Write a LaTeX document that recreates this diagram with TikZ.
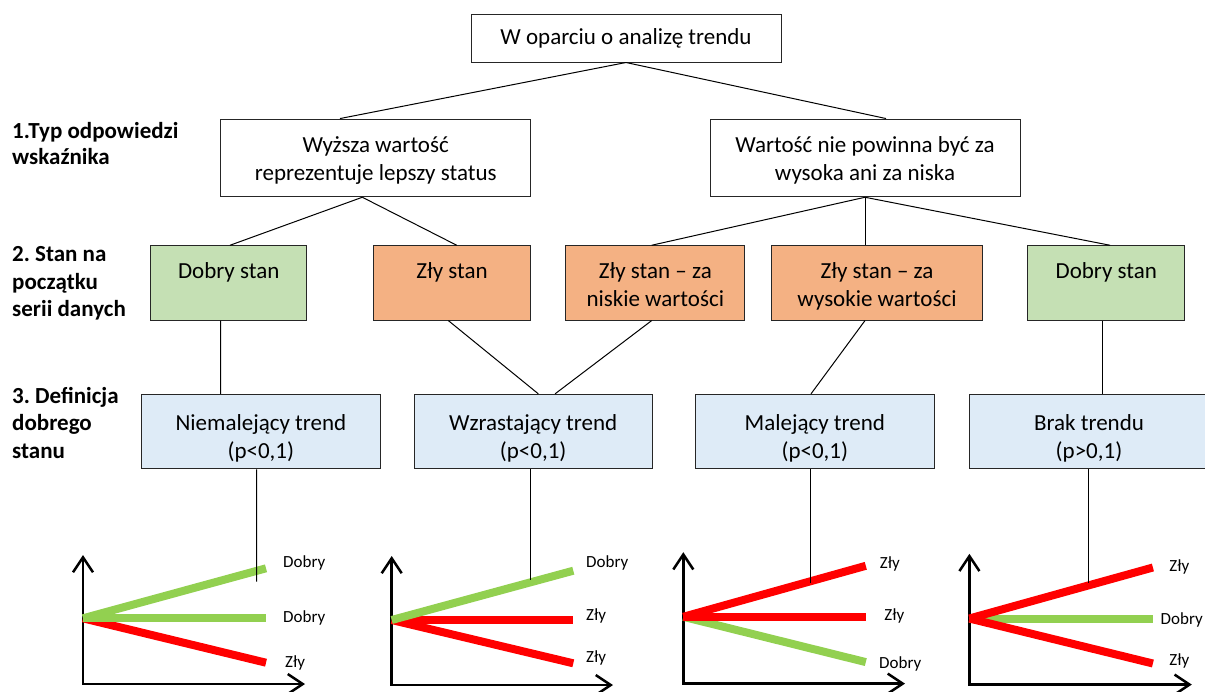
\documentclass[tikz,border=0pt]{standalone}
\usepackage{fontspec}
\setmainfont{Carlito}
\usetikzlibrary{arrows.meta}
\definecolor{gfill}{HTML}{C5E0B4}
\definecolor{ofill}{HTML}{F4B183}
\definecolor{bfill}{HTML}{DEEBF7}
\definecolor{lgreen}{HTML}{92D050}
\definecolor{lred}{HTML}{FF0000}
\newcommand{\tpad}[1]{\rule{0pt}{#1}}
\frenchspacing
\begin{document}
\begin{tikzpicture}[x=1pt,y=-1pt,
  box/.style={draw=black!85, line width=1pt, align=center, inner sep=0pt,
    font=\fontsize{23}{28}\selectfont},
  wbox/.style={box, fill=white},
  gbox/.style={box, fill=gfill, minimum height=74.3pt},
  obox/.style={box, fill=ofill, minimum height=74.3pt},
  bbox/.style={box, fill=bfill, minimum width=238.3pt, minimum height=74.5pt},
  conn/.style={draw=black, line width=1pt},
  lab/.style={anchor=base west, align=left, inner sep=0pt,
    font=\fontsize{23}{27.5}\selectfont\bfseries},
  axisline/.style={line width=2.5pt, line join=miter,
    {Straight Barb[length=15pt,width=20pt]}-{Straight Barb[length=15pt,width=20pt]}},
  redln/.style={draw=lred, line width=8pt},
  grnln/.style={draw=lgreen, line width=8pt},
  small/.style={anchor=base west, inner sep=0pt, font=\fontsize{17}{20}\selectfont},
]
\useasboundingbox (0,0) rectangle (1205,691);

% left labels (base = last line)
\node[lab, font=\fontsize{23}{26}\selectfont\bfseries] (L1) at (12,164.3) {1.Typ odpowiedzi\\wskaźnika};
\node[lab] (L2) at (12,316.7) {2. Stan na\\początku\\serii danych};
\node[lab] (L3) at (12,458.3) {3. Definicja\\dobrego\\stanu};

% top
\node[wbox, minimum width=310pt, minimum height=48pt] (top) at (626,38) {W oparciu o analizę trendu};

% level 1
\node[wbox, minimum width=310pt, minimum height=77.7pt] (b1) at (375.7,157.9) {\tpad{21pt}Wyższa wartość\\reprezentuje lepszy status};
\node[wbox, minimum width=310pt, minimum height=77.7pt] (b2) at (865,157.9) {\tpad{21pt}Wartość nie powinna być za\\wysoka ani za niska};

% level 2
\node[gbox, minimum width=156pt] (c1) at (228.7,282.9) {\tpad{22pt}Dobry stan\\\vphantom{y}};
\node[obox, minimum width=157.4pt] (c2) at (452,282.9) {\tpad{22pt}Zły stan\\\vphantom{y}};
\node[obox, minimum width=178.7pt] (c3) at (655.3,282.9) {\tpad{22pt}Zły stan – za\\niskie wartości\vphantom{y}};
\node[obox, minimum width=210.6pt] (c4) at (877,282.9) {\tpad{22pt}Zły stan – za\\wysokie wartości\vphantom{y}};
\node[gbox, minimum width=157.3pt] (c5) at (1106.3,282.9) {\tpad{22pt}Dobry stan\\\vphantom{y}};

% level 3
\node[bbox] (d1) at (260.85,431.6) {\tpad{30pt}Niemalejący trend\\(p<0,1)};
\node[bbox] (d2) at (533.15,431.6) {\tpad{30pt}Wzrastający trend\\(p<0,1)};
\node[bbox] (d3) at (814.85,431.6) {\tpad{30pt}Malejący trend\\(p<0,1)};
\node[bbox, minimum width=258.3pt] (d4) at (1099,431.6) {\tpad{30pt}Brak trendu\hspace*{20pt}\\(p>0,1)\hspace*{20pt}};

% connectors
\draw[conn] (top.south) -- ([xshift=-35.7pt]b1.north);
\draw[conn] (top.south) -- ([xshift=21pt]b2.north);
\draw[conn] ([xshift=-13.4pt]b1.south) -- ([xshift=1.3pt]c1.north);
\draw[conn] ([xshift=-13.4pt]b1.south) -- ([xshift=4.7pt]c2.north);
\draw[conn] (b2.south) -- ([xshift=-3.6pt]c3.north);
\draw[conn] (b2.south) -- ([xshift=-12pt]c4.north);
\draw[conn] (b2.south) -- ([xshift=3.7pt]c5.north);
\draw[conn] ([xshift=-8pt]c1.south) -- ([xshift=-40.15pt]d1.north);
\draw[conn] ([xshift=-3.7pt]c2.south) -- ([xshift=5.2pt]d2.north);
\draw[conn] ([xshift=-3.6pt]c3.south) -- ([xshift=21.9pt]d2.north);
\draw[conn] ([xshift=-12pt]c4.south) -- ([xshift=-3.85pt]d3.north);
\draw[conn] ([xshift=-3.6pt]c5.south) -- ([xshift=3.7pt]d4.north);

\coordinate (e1) at (256.7,581.7);
\coordinate (e2) at (530,580);
\coordinate (e3) at (810.5,582.6);
\coordinate (e4) at (1088.6,582.6);

% chart 1
\draw[axisline] (83,555) -- (83,684) -- (305,684);
\draw[redln] (83,618.3) -- (266,662.7);
\draw[grnln] (83,618.3) -- (266,568.3);
\draw[grnln] (83,618.3) -- (266,618.3);
\node[small] (t11) at (283,567) {Dobry};
\node[small] (t12) at (283,622.5) {Dobry};
\node[small] (t13) at (285,667) {Zły};

% chart 2
\draw[axisline] (391.7,556) -- (391.7,685) -- (613,685);
\draw[redln] (391.7,620) -- (573.3,620);
\draw[redln] (391.7,620) -- (573.3,663.3);
\draw[grnln] (391.7,620) -- (573.3,570.7);
\node[small] (t21) at (586,567) {Dobry};
\node[small] (t22) at (586,620.5) {Zły};
\node[small] (t23) at (586,662) {Zły};

% chart 3
\draw[axisline] (683.3,552.2) -- (683.3,683.6) -- (905,683.6);
\draw[grnln] (683.3,616.8) -- (865.8,662.1);
\draw[redln] (683.3,616.8) -- (865.8,565.8);
\draw[redln] (683.3,616.8) -- (865.8,616.8);
\node[small] (t31) at (879.7,568.2) {Zły};
\node[small] (t32) at (884.2,620.3) {Zły};
\node[small] (t33) at (879,668.5) {Dobry};

% chart 4
\draw[axisline] (969.4,553.8) -- (969.4,684.6) -- (1191.8,684.6);
\draw[grnln] (969.4,618.5) -- (1152.9,618.5);
\draw[redln] (969.4,618.5) -- (1152.9,567.5);
\draw[redln] (969.4,618.5) -- (1152.9,663.5);
\node[small] (t41) at (1169.2,571) {Zły};
\node[small] (t42) at (1160.5,624.5) {Dobry};
\node[small] (t43) at (1169.2,665.8) {Zły};

% chart stems
\draw[conn] ([xshift=-4.15pt]d1.south) -- (e1);
\draw[conn] ([xshift=-3.15pt]d2.south) -- (e2);
\draw[conn] ([xshift=-4.35pt]d3.south) -- (e3);
\draw[conn] ([xshift=-10.4pt]d4.south) -- (e4);
\end{tikzpicture}
\end{document}
